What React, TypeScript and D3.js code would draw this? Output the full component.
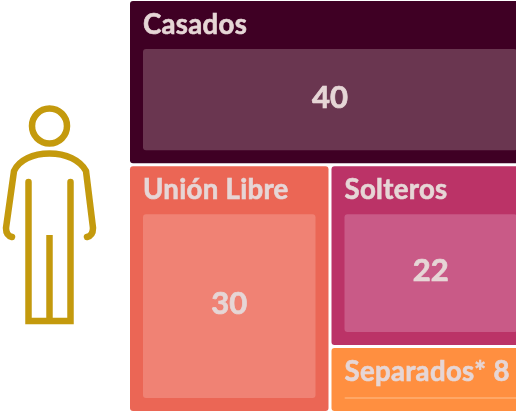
import React from 'react';
import * as d3 from 'd3';

const categories = ['Casados', 'Unión Libre', 'Solteros', 'Separados*'];
const values = [40, 30, 22, 8];
const fills = ['#3f0024', '#eb6655', '#bb3367', '#ff8f40'];
const innerFills = ['#6a3650', '#f08274', '#c95a87', '#ffa766'];

const width = 516;
const height = 416;
// the treemap runs past the right edge of the picture
const box = { x0: 130, y0: 1, x1: 530, y1: 411 };
const header = 48;
const inset = 13;
const textColor = '#e6d6d6';
const iconColor = '#c49a10';

type Item = { index?: number; value?: number; children?: Item[] };

const leaves: Item[] = values.map((value, index) => ({ index, value }));
const tree: Item = {
  children: [leaves[0], { children: [leaves[1], { children: [leaves[2], leaves[3]] }] }],
};

const tile = (node: any, x0: number, y0: number, x1: number, y1: number) => {
  const method = node.depth % 2 === 0 ? d3.treemapSlice : d3.treemapDice;
  method(node, x0, y0, x1, y1);
};

const root = d3
  .treemap<Item>()
  .tile(tile)
  .size([box.x1 - box.x0, box.y1 - box.y0])
  .paddingInner(3)(d3.hierarchy(tree).sum((d) => d.value ?? 0));

const Person = () => (
  <g fill="none" stroke={iconColor} strokeWidth={6.5} strokeLinecap="round" strokeLinejoin="round" filter="url(#soft)">
    <circle cx={49.5} cy={126} r={17.5} />
    <path d="M12 237 C8 236 6 233 6 228 L14 171 C19 160 33 153.5 49.5 153.5 C66 153.5 80 160 86 171 L93 228 C93 233 91 236 87 237" />
    <path d="M28.5 182 V321 H70.5 V182" strokeLinecap="round" strokeLinejoin="miter" />
    <path d="M49.5 235 V321" strokeLinecap="butt" />
  </g>
);

export default function App() {
  return (
    <svg
      width={width}
      height={height}
      style={{ position: 'absolute', left: 0, top: 0, background: '#fff', fontFamily: 'Lato, sans-serif', fontWeight: 700 }}
    >
      <defs>
        <filter id="soft" x="-5%" y="-5%" width="110%" height="110%">
          <feGaussianBlur stdDeviation={0.5} />
        </filter>
      </defs>
      <Person />
      <g transform={`translate(${box.x0},${box.y0})`}>
        {root.leaves().map((d) => {
          const i = d.data.index as number;
          const w = d.x1 - d.x0;
          const h = d.y1 - d.y0;
          const innerH = h - header - inset;
          const small = values[i] < 10;
          return (
            <g key={categories[i]} transform={`translate(${d.x0},${d.y0})`}>
              <rect width={w} height={h} rx={3} fill={fills[i]} />
              <rect x={inset} y={small ? h - 14 : header} width={w - inset * 2} height={small ? 2 : innerH} rx={small ? 1 : 3} fill={innerFills[i]} />
              <text x={inset} y={33} fontSize={27.6} letterSpacing={0.3} fill={textColor} stroke={textColor} strokeWidth={0.6} filter="url(#soft)">
                {small ? `${categories[i]} ${values[i]}` : categories[i]}
              </text>
              {!small && (
                <text x={w / 2} y={header + innerH / 2 - 2.5} dy="0.35em" textAnchor="middle" fontSize={31} fill={textColor} stroke={textColor} strokeWidth={0.7} filter="url(#soft)">
                  {values[i]}
                </text>
              )}
            </g>
          );
        })}
      </g>
    </svg>
  );
}
